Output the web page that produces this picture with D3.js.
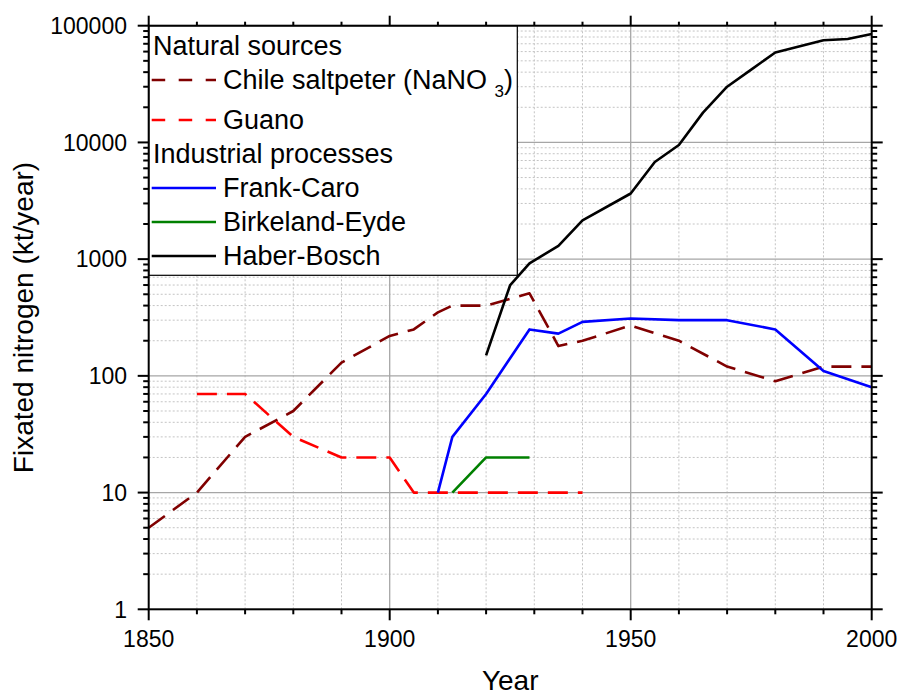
<!DOCTYPE html>
<html>
<head>
<meta charset="utf-8">
<script src="https://cdn.jsdelivr.net/npm/d3@7"></script>
<style>
html,body{margin:0;padding:0;background:#fff;}
svg{display:block;font-family:Arial,"Liberation Sans",sans-serif;}
</style>
</head>
<body>
<svg id="chart" width="899" height="695"></svg>
<script>
// ---- data ----
const chileYears  = [1850,1860,1870,1880,1890,1900,1905,1910,1913,1920,1929,1935,1940,1950,1960,1970,1980,1990,2000];
const chileValues = [5,10,30,50,130,220,250,350,400,400,510,180,200,270,200,120,90,120,120];
const guanoYears  = [1860,1870,1880,1890,1900,1905,1940];
const guanoValues = [70,70,30,20,20,10,10];
const frankYears  = [1910,1913,1920,1929,1935,1940,1950,1960,1970,1980,1990,2000];
const frankValues = [10,30,70,250,230,290,310,300,300,250,110,80];
const birkYears   = [1913,1920,1929];
const birkValues  = [10,20,20];
const haberYears  = [1920,1925,1929,1935,1940,1950,1955,1960,1965,1970,1975,1980,1990,1995,2000];
const haberValues = [150,600,920,1300,2150,3650,6800,9500,18000,30000,42000,59000,75000,77000,85000];
const xTickLabels = [1850,1900,1950,2000];
const yTickLabels = [1,10,100,1000,10000,100000];
const legendGroups = ["Natural sources","Industrial processes"];
const seriesNames = ["Chile saltpeter (NaNO","Guano","Frank-Caro","Birkeland-Eyde","Haber-Bosch"];

const series = [
  {name:seriesNames[0], years:chileYears, values:chileValues, color:"#800000", dash:"20,10"},
  {name:seriesNames[1], years:guanoYears, values:guanoValues, color:"#ff0000", dash:"20,10"},
  {name:seriesNames[2], years:frankYears, values:frankValues, color:"#0000ff", dash:null},
  {name:seriesNames[3], years:birkYears, values:birkValues, color:"#008000", dash:null},
  {name:seriesNames[4], years:haberYears, values:haberValues, color:"#000000", dash:null}
];

const svg = d3.select("#chart");
const x = d3.scaleLinear().domain([1850,2000]).range([148.7,871.7]);
const y = d3.scaleLog().domain([1,100000]).range([609.3,25.7]);
const [x0,x1] = x.range(); const [y0,y1] = y.range();

// minor values
const yMinor = [];
for (let d=1; d<100000; d*=10) for (let k=2;k<=9;k++) yMinor.push(d*k);
const xMinor = d3.range(1860,2000,10).filter(v=>v%50!==0);

// grid
const grid = svg.append("g");
grid.selectAll("line.ymin").data(yMinor).join("line")
  .attr("x1",x0).attr("x2",x1).attr("y1",d=>y(d)).attr("y2",d=>y(d))
  .attr("stroke","#c4c4c4").attr("stroke-width",1).attr("stroke-dasharray","2,2");
grid.selectAll("line.xmin").data(xMinor).join("line")
  .attr("y1",y0).attr("y2",y1).attr("x1",d=>x(d)).attr("x2",d=>x(d))
  .attr("stroke","#c4c4c4").attr("stroke-width",1).attr("stroke-dasharray","2,2");
grid.selectAll("line.ymaj").data(yTickLabels.slice(1,-1)).join("line")
  .attr("x1",x0).attr("x2",x1).attr("y1",d=>y(d)).attr("y2",d=>y(d))
  .attr("stroke","#a6a6a6").attr("stroke-width",1.3);
grid.selectAll("line.xmaj").data(xTickLabels.slice(1,-1)).join("line")
  .attr("y1",y0).attr("y2",y1).attr("x1",d=>x(d)).attr("x2",d=>x(d))
  .attr("stroke","#a6a6a6").attr("stroke-width",1.3);

// lines
const line = d3.line().x(d=>x(d[0])).y(d=>y(d[1]));
series.forEach(s=>{
  svg.append("path")
    .datum(s.years.map((yr,i)=>[yr,s.values[i]]))
    .attr("d",line).attr("fill","none")
    .attr("stroke",s.color).attr("stroke-width",2.6)
    .attr("stroke-linejoin","round")
    .attr("stroke-dasharray",s.dash);
});

// legend
const lg = svg.append("g");
lg.append("rect").attr("x",x0).attr("y",y1).attr("width",517.3-x0).attr("height",275.3-y1)
  .attr("fill","#fff").attr("stroke","#000").attr("stroke-width",1.2);
const fs = 27;
lg.append("text").attr("x",153).attr("y",55).attr("font-size",fs).text(legendGroups[0]);
lg.append("text").attr("x",153).attr("y",163).attr("font-size",fs).text(legendGroups[1]);
const legY = [89,129,197,231,265];
series.forEach((s,i)=>{
  lg.append("line").attr("x1",151.7).attr("x2",216).attr("y1",legY[i]-9).attr("y2",legY[i]-9)
    .attr("stroke",s.color).attr("stroke-width",2.6)
    .attr("stroke-dasharray",s.dash?"13.5,13.5":null);
  const t = lg.append("text").attr("x",223).attr("y",legY[i]).attr("font-size",fs);
  if (i===0) {
    t.append("tspan").text(s.name+"\u00a0");
    t.append("tspan").attr("dy",8).attr("font-size",17).text("3");
    t.append("tspan").attr("dy",-8).text(")");
  } else t.text(s.name);
});

// axes
const ax = svg.append("g").attr("stroke","#000").attr("stroke-width",2);
ax.append("rect").attr("x",x0).attr("y",y1).attr("width",x1-x0).attr("height",y0-y1).attr("fill","none");
ax.selectAll("line.ylm").data(yTickLabels).join("line")
  .attr("x1",x0-11).attr("x2",x0).attr("y1",d=>y(d)).attr("y2",d=>y(d));
ax.selectAll("line.yln").data(yMinor).join("line")
  .attr("x1",x0-5.5).attr("x2",x0).attr("y1",d=>y(d)).attr("y2",d=>y(d));
ax.selectAll("line.yrm").data(yTickLabels).join("line")
  .attr("x1",x1).attr("x2",x1+11).attr("y1",d=>y(d)).attr("y2",d=>y(d));
ax.selectAll("line.yrn").data(yMinor).join("line")
  .attr("x1",x1).attr("x2",x1+5.5).attr("y1",d=>y(d)).attr("y2",d=>y(d));
ax.selectAll("line.xbm").data(xTickLabels).join("line")
  .attr("y1",y0).attr("y2",y0+11).attr("x1",d=>x(d)).attr("x2",d=>x(d));
ax.selectAll("line.xbn").data(xMinor).join("line")
  .attr("y1",y0).attr("y2",y0+5).attr("x1",d=>x(d)).attr("x2",d=>x(d));
ax.selectAll("line.xtm").data(xTickLabels).join("line")
  .attr("y1",y1).attr("y2",y1-10).attr("x1",d=>x(d)).attr("x2",d=>x(d));
ax.selectAll("line.xtn").data(xMinor).join("line")
  .attr("y1",y1).attr("y2",y1-4).attr("x1",d=>x(d)).attr("x2",d=>x(d));

// tick labels
svg.append("g").selectAll("text").data(yTickLabels).join("text")
  .attr("x",127).attr("y",d=>y(d)).attr("dy","0.36em")
  .attr("text-anchor","end").attr("font-size",23).text(d=>String(d));
svg.append("g").selectAll("text").data(xTickLabels).join("text")
  .attr("x",d=>x(d)).attr("y",647).attr("text-anchor","middle")
  .attr("font-size",23).text(d=>String(d));

// axis titles
svg.append("text").attr("x",(x0+x1)/2).attr("y",690).attr("text-anchor","middle")
  .attr("font-size",28).text("Year");
svg.append("text").attr("transform",`translate(32.5,${(y0+y1)/2}) rotate(-90)`)
  .attr("text-anchor","middle").attr("font-size",28).text("Fixated nitrogen (kt/year)");
</script>
</body>
</html>
